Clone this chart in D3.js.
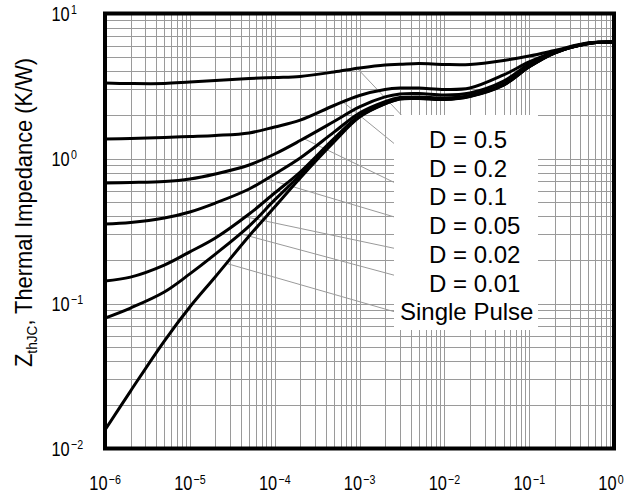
<!DOCTYPE html>
<html>
<head>
<meta charset="utf-8">
<script src="https://cdn.jsdelivr.net/npm/d3@7"></script>
<style>
  body { margin: 0; background: #fff; }
  svg { display: block; }
  text { font-family: "Liberation Sans", Arial, sans-serif; fill: #000; }
</style>
</head>
<body>
<svg id="chart" width="629" height="498"></svg>
<script>
// Pulse duration t (s) at which each curve is sampled
const pulseTimes = [1e-6, 2e-6, 5e-6, 1e-5, 2e-5, 5e-5, 1e-4, 2e-4, 5e-4, 1e-3,
                    2e-3, 3e-3, 5e-3, 1e-2, 2e-2, 5e-2, 1e-1, 2e-1, 5e-1, 1];

// Transient thermal impedance Z_thJC (K/W) for each duty cycle
const zD050 = [3.32, 3.29, 3.29, 3.37, 3.45, 3.56, 3.62, 3.68, 3.95, 4.21,
               4.42, 4.46, 4.52, 4.45, 4.45, 4.74, 5.09, 5.56, 6.28, 6.36];
const zD020 = [1.363, 1.374, 1.396, 1.418, 1.442, 1.50, 1.65, 1.84, 2.32, 2.72,
               2.99, 3.06, 3.06, 2.99, 3.06, 3.77, 4.63, 5.43, 6.24, 6.36];
const zD010 = [0.678, 0.683, 0.694, 0.722, 0.782, 0.902, 1.074, 1.33, 1.80, 2.27,
               2.66, 2.79, 2.81, 2.74, 2.83, 3.42, 4.48, 5.43, 6.23, 6.36];
const zD005 = [0.353, 0.362, 0.389, 0.428, 0.493, 0.616, 0.782, 1.008, 1.52, 2.06,
               2.47, 2.63, 2.66, 2.61, 2.72, 3.27, 4.35, 5.39, 6.22, 6.36];
const zD002 = [0.143, 0.152, 0.184, 0.227, 0.283, 0.414, 0.578, 0.807, 1.37, 1.98,
               2.41, 2.60, 2.62, 2.58, 2.70, 3.24, 4.31, 5.36, 6.22, 6.36];
const zD001 = [0.0794, 0.0931, 0.120, 0.160, 0.219, 0.342, 0.518, 0.769, 1.33, 1.95,
               2.39, 2.58, 2.60, 2.56, 2.69, 3.22, 4.29, 5.35, 6.21, 6.36];
const zSingle = [0.01342, 0.0249, 0.0551, 0.0946, 0.153, 0.292, 0.463, 0.734, 1.30, 1.93,
                 2.38, 2.57, 2.59, 2.55, 2.68, 3.21, 4.28, 5.34, 6.21, 6.36];

const seriesLabels = ["D = 0.5", "D = 0.2", "D = 0.1", "D = 0.05", "D = 0.02", "D = 0.01", "Single Pulse"];
const seriesValues = [zD050, zD020, zD010, zD005, zD002, zD001, zSingle];
// Pulse time where each callout line touches its curve
const calloutTimes = [9.4e-4, 6.4e-4, 2.2e-4, 8e-5, 4.5e-5, 3.9e-5, 2.7e-5];

const xTickExponents = [-6, -5, -4, -3, -2, -1, 0];
const yTickExponents = [-2, -1, 0, 1];

// ---- layout ----
const plot = { left: 105, right: 614, top: 13.5, bottom: 448.5 };
const plotH = plot.bottom - plot.top;
const legendBox = { x: 394, y: 115, w: 144, h: 215 };
const labelSquash = 0.82;   // tick labels use a narrow setting of the face

const svg = d3.select("#chart");

const x = d3.scaleLog().domain([1e-6, 1]).range([plot.left, plot.right]);
const y = d3.scaleLog().domain([1e-2, 10]).range([plot.bottom, plot.top]);

// ---- grid (every 1..9 multiple per decade) ----
const gridX = svg.append("g")
  .attr("transform", `translate(0,${plot.bottom})`)
  .call(d3.axisBottom(x).ticks(60).tickSize(-plotH).tickFormat(""));
const gridY = svg.append("g")
  .attr("transform", `translate(${plot.left},0)`)
  .call(d3.axisLeft(y).ticks(30).tickSize(-(plot.right - plot.left)).tickFormat(""));
[gridX, gridY].forEach(g => {
  g.select(".domain").remove();
  g.selectAll(".tick line")
    .attr("stroke", "#9a9a9a")
    .attr("stroke-width", 1)
    .attr("shape-rendering", "crispEdges");
});

// ---- callout lines from curves to legend entries ----
function zAt(series, t) {
  const lt = Math.log10(t);
  for (let i = 0; i < pulseTimes.length - 1; i++) {
    const a = Math.log10(pulseTimes[i]), b = Math.log10(pulseTimes[i + 1]);
    if (lt >= a && lt <= b) {
      const f = (lt - a) / (b - a);
      return Math.pow(10, Math.log10(series[i]) + f * (Math.log10(series[i + 1]) - Math.log10(series[i])));
    }
  }
  return series[series.length - 1];
}
const legendRow = i => 148 + i * 28.7;           // text baseline
const legendX = i => (i < 6 ? 429 : 400);         // text start

const calloutG = svg.append("g");
seriesValues.forEach((s, i) => {
  const t = calloutTimes[i];
  calloutG.append("line")
    .attr("x1", x(t)).attr("y1", y(zAt(s, t)))
    .attr("x2", legendX(i) - 4).attr("y2", legendRow(i) - 8)
    .attr("stroke", "#9a9a9a").attr("stroke-width", 1);
});

// ---- legend box ----
svg.append("rect")
  .attr("x", legendBox.x).attr("y", legendBox.y)
  .attr("width", legendBox.w).attr("height", legendBox.h)
  .attr("fill", "#fff");

seriesLabels.forEach((lab, i) => {
  svg.append("text")
    .attr("x", legendX(i)).attr("y", legendRow(i))
    .attr("font-size", 24)
    .text(lab);
});

// ---- curves ----
svg.append("clipPath").attr("id", "plotClip")
  .append("rect")
  .attr("x", plot.left).attr("y", plot.top)
  .attr("width", plot.right - plot.left).attr("height", plotH);

const line = d3.line()
  .x(d => x(d[0]))
  .y(d => y(d[1]))
  .curve(d3.curveCatmullRom.alpha(0.5));

svg.append("g").attr("clip-path", "url(#plotClip)")
  .selectAll("path")
  .data(seriesValues)
  .join("path")
  .attr("d", s => line(pulseTimes.map((t, i) => [t, s[i]])))
  .attr("fill", "none")
  .attr("stroke", "#000")
  .attr("stroke-width", 3)
  .attr("stroke-linejoin", "round");

// ---- frame ----
svg.append("rect")
  .attr("x", plot.left).attr("y", plot.top)
  .attr("width", plot.right - plot.left).attr("height", plotH)
  .attr("fill", "none").attr("stroke", "#000").attr("stroke-width", 4);

// ---- tick labels (10 with superscript exponent) ----
const fmtExp = e => (e < 0 ? "\u2212" + Math.abs(e) : String(e));

function powerLabel(g, e) {
  const t = g.append("text").attr("x", 0).attr("y", 0).attr("font-size", 20);
  t.append("tspan").text("10");
  t.append("tspan").attr("dx", 1.5).attr("dy", -6.5).attr("font-size", 13).text(fmtExp(e));
}

xTickExponents.forEach(e => {
  const g = svg.append("g")
    .attr("transform", `translate(${x(Math.pow(10, e)) - 15.7},490) scale(${labelSquash},1)`);
  powerLabel(g, e);
});

yTickExponents.forEach(e => {
  const g = svg.append("g")
    .attr("transform", `translate(51.5,${y(Math.pow(10, e)) + 7}) scale(${labelSquash},1)`);
  powerLabel(g, e);
});

// ---- y axis title ----
const title = svg.append("text")
  .attr("transform", "translate(31.5,212.5) rotate(-90)")
  .attr("text-anchor", "middle")
  .attr("font-size", 24)
  .attr("textLength", 309)
  .attr("lengthAdjust", "spacingAndGlyphs");
title.append("tspan").text("Z");
title.append("tspan").attr("font-size", 15).attr("dy", 5).text("thJC");
title.append("tspan").attr("dy", -5).text(", Thermal Impedance (K/W)");
</script>
</body>
</html>
